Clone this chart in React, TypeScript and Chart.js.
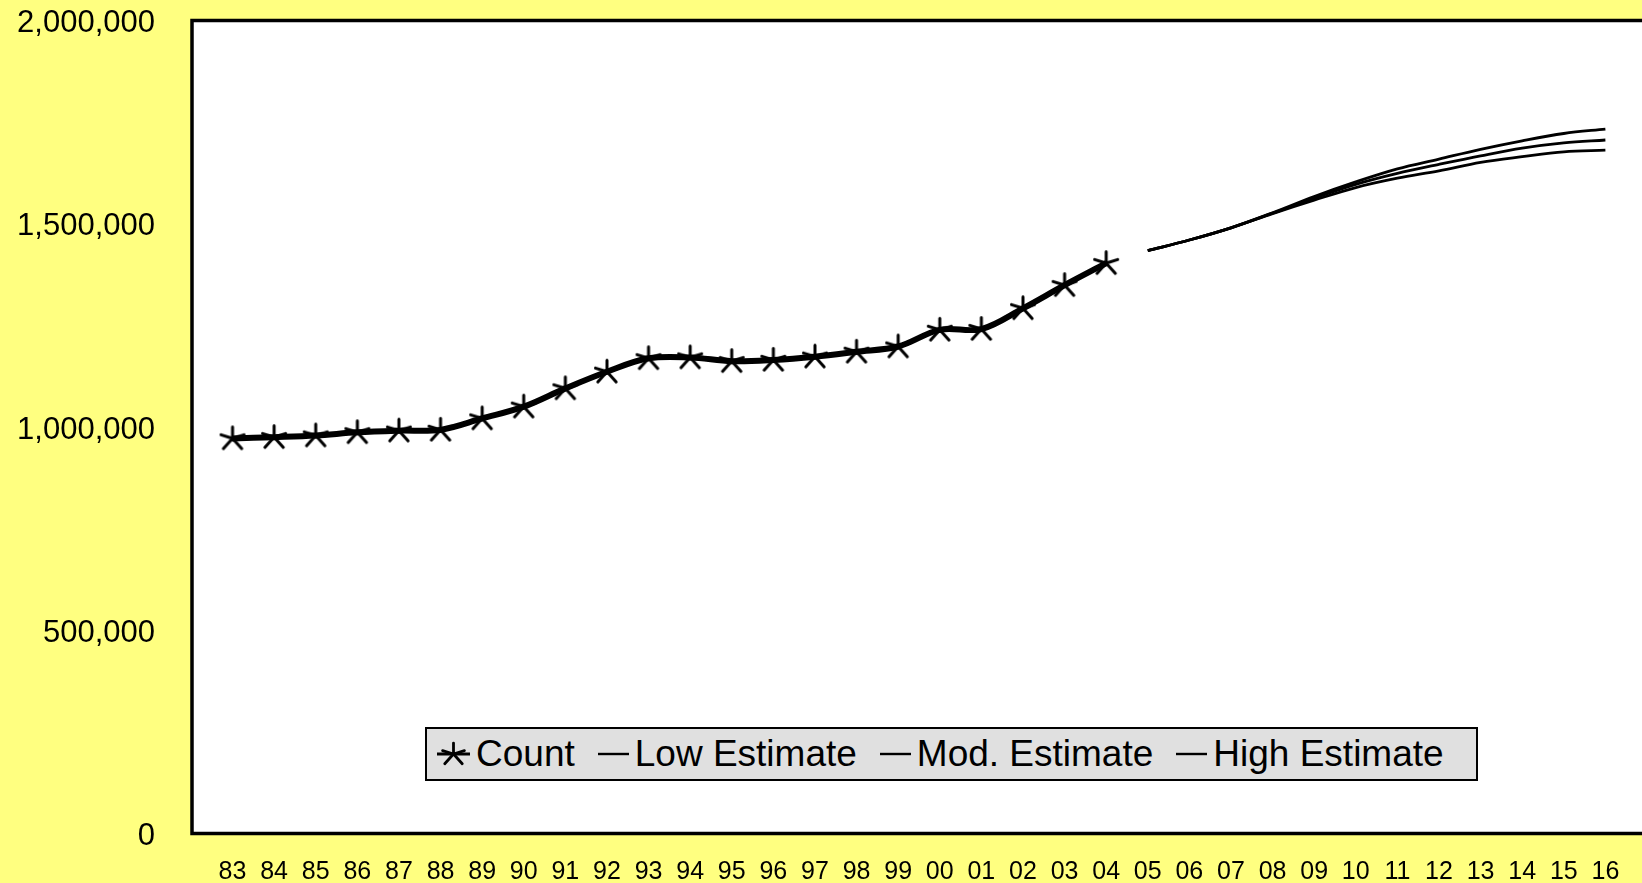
import React, { useEffect, useRef } from 'react';
import { Chart, registerables } from 'chart.js';

Chart.register(...registerables);

// ---------- data ----------
const yearLabels = [
  '83', '84', '85', '86', '87', '88', '89', '90', '91', '92', '93', '94',
  '95', '96', '97', '98', '99', '00', '01', '02', '03', '04', '05', '06',
  '07', '08', '09', '10', '11', '12', '13', '14', '15', '16',
];

// Count: 83 .. 04
const countValues = [
  972000, 975000, 979000, 987000, 991000, 993000, 1021000, 1050000, 1095000,
  1136000, 1169000, 1171000, 1162000, 1165000, 1173000, 1185000, 1198000,
  1239000, 1241000, 1292000, 1349000, 1403000,
];

// Estimates: 05 .. 16
const lowEstimate = [
  1434000, 1460000, 1490000, 1525000, 1558000, 1589000, 1612000, 1630000,
  1651000, 1665000, 1677000, 1681000,
];
const modEstimate = [
  1434000, 1460000, 1490000, 1526000, 1563000, 1597000, 1624000, 1646000,
  1667000, 1686000, 1699000, 1706000,
];
const highEstimate = [
  1434000, 1460000, 1490000, 1527000, 1567000, 1603000, 1635000, 1659000,
  1683000, 1704000, 1722000, 1733000,
];

const yTickValues = [0, 500000, 1000000, 1500000, 2000000];

const countStartIndex = 0;
const estimateStartIndex = 22;

const legendItems = [
  { label: 'Count', star: true },
  { label: 'Low Estimate', star: false },
  { label: 'Mod. Estimate', star: false },
  { label: 'High Estimate', star: false },
];

// ---------- styling ----------
const FONT = "'Liberation Sans', Arial, Helvetica, sans-serif";
const PAGE_BG = '#FFFF80';

const starArms: Array<[number, number]> = [
  [0, -11.5],
  [11.5, -3.6],
  [9.2, 10.2],
  [-9.2, 10.2],
  [-11.5, -3.6],
];

function makeStarCanvas(): HTMLCanvasElement {
  const c = document.createElement('canvas');
  c.width = 30;
  c.height = 30;
  const g = c.getContext('2d');
  if (g) {
    g.strokeStyle = '#000';
    g.lineWidth = 3;
    g.lineCap = 'round';
    g.beginPath();
    for (const [dx, dy] of starArms) {
      g.moveTo(15, 15);
      g.lineTo(15 + dx, 15 + dy);
    }
    g.stroke();
  }
  return c;
}

const toPoints = (values: number[], start: number) =>
  values.map((v, i) => ({ x: start + i, y: v }));

const framePlugin = {
  id: 'plotFrame',
  beforeDraw(chart: any) {
    const { ctx, chartArea: a } = chart;
    ctx.save();
    ctx.fillStyle = '#FFFFFF';
    ctx.fillRect(a.left, a.top, a.right - a.left + 10, a.bottom - a.top);
    ctx.restore();
  },
  beforeDatasetsDraw(chart: any) {
    const { ctx, chartArea: a } = chart;
    ctx.save();
    ctx.strokeStyle = '#000';
    ctx.lineWidth = 3.5;
    ctx.lineJoin = 'miter';
    ctx.beginPath();
    ctx.moveTo(a.right + 10, a.top);
    ctx.lineTo(a.left, a.top);
    ctx.lineTo(a.left, a.bottom);
    ctx.lineTo(a.right + 10, a.bottom);
    ctx.stroke();
    ctx.restore();
  },
};

function LegendStar() {
  return (
    <svg width="33" height="26" viewBox="0 0 33 26" style={{ display: 'block' }}>
      <line x1="0" y1="13" x2="33" y2="13" stroke="#000" strokeWidth="3" />
      {starArms.map(([dx, dy], i) => (
        <line
          key={i}
          x1="16.5"
          y1="13"
          x2={16.5 + dx * 0.95}
          y2={13 + dy * 0.95}
          stroke="#000"
          strokeWidth="2.8"
          strokeLinecap="round"
        />
      ))}
    </svg>
  );
}

function LegendDash() {
  return (
    <svg width="31" height="26" viewBox="0 0 31 26" style={{ display: 'block' }}>
      <line x1="0" y1="13" x2="31" y2="13" stroke="#000" strokeWidth="2.4" />
    </svg>
  );
}

export default function App() {
  const canvasRef = useRef<HTMLCanvasElement | null>(null);

  useEffect(() => {
    const canvas = canvasRef.current;
    if (!canvas) return;
    const star = makeStarCanvas();

    const chart = new Chart(canvas, {
      type: 'line',
      data: {
        datasets: [
          {
            label: 'Count',
            data: toPoints(countValues, countStartIndex),
            borderColor: '#000',
            borderWidth: 6,
            tension: 0.35,
            pointStyle: star as any,
            pointRadius: 12,
            pointBorderWidth: 0,
            pointBackgroundColor: '#000',
          },
          {
            label: 'Low Estimate',
            data: toPoints(lowEstimate, estimateStartIndex),
            borderColor: '#000',
            borderWidth: 2.8,
            tension: 0.35,
            pointRadius: 0,
          },
          {
            label: 'Mod. Estimate',
            data: toPoints(modEstimate, estimateStartIndex),
            borderColor: '#000',
            borderWidth: 2.8,
            tension: 0.35,
            pointRadius: 0,
          },
          {
            label: 'High Estimate',
            data: toPoints(highEstimate, estimateStartIndex),
            borderColor: '#000',
            borderWidth: 2.8,
            tension: 0.35,
            pointRadius: 0,
          },
        ],
      },
      options: {
        animation: false,
        responsive: true,
        maintainAspectRatio: false,
        layout: {
          autoPadding: false,
          padding: { top: 20.5, left: 0, right: 0, bottom: 0 },
        },
        plugins: {
          legend: { display: false },
          tooltip: { enabled: false },
        },
        scales: {
          x: {
            type: 'linear',
            min: -0.974,
            max: 33.88,
            grid: { display: false, drawTicks: false },
            border: { display: false },
            afterBuildTicks: (scale: any) => {
              scale.ticks = yearLabels.map((_, i) => ({ value: i }));
            },
            afterFit: (scale: any) => {
              scale.height = 49.5;
              scale.paddingLeft = 0;
              scale.paddingRight = 0;
            },
            ticks: {
              autoSkip: false,
              maxRotation: 0,
              minRotation: 0,
              padding: 24,
              color: '#000',
              font: { family: FONT, size: 25 },
              callback: (v: any) => yearLabels[Math.round(Number(v))] ?? '',
            },
          },
          y: {
            type: 'linear',
            min: 0,
            max: 2000000,
            grid: { display: false, drawTicks: false },
            border: { display: false },
            afterBuildTicks: (scale: any) => {
              scale.ticks = yTickValues.map((v) => ({ value: v }));
            },
            afterFit: (scale: any) => {
              scale.width = 192;
              scale.paddingTop = 0;
              scale.paddingBottom = 0;
            },
            ticks: {
              padding: 37,
              labelOffset: 3,
              color: '#000',
              font: { family: FONT, size: 31 },
              callback: (v: any) => Number(v).toLocaleString('en-US'),
            },
          },
        },
      },
      plugins: [framePlugin],
    });

    return () => chart.destroy();
  }, []);

  return (
    <div
      style={{
        position: 'fixed',
        left: 0,
        top: 0,
        width: 1642,
        height: 883,
        background: PAGE_BG,
        overflow: 'hidden',
      }}
    >
      <canvas ref={canvasRef} />
      <div
        style={{
          position: 'absolute',
          left: 425,
          top: 727,
          width: 1053,
          height: 54,
          boxSizing: 'border-box',
          border: '2px solid #000',
          background: '#E0E0E0',
          display: 'flex',
          alignItems: 'center',
          paddingLeft: 10,
          fontFamily: FONT,
          fontSize: 37,
          color: '#000',
          whiteSpace: 'nowrap',
        }}
      >
        {legendItems.map((item, i) => (
          <div
            key={item.label}
            style={{
              display: 'flex',
              alignItems: 'center',
              marginLeft: i === 0 ? 0 : 23,
            }}
          >
            {item.star ? <LegendStar /> : <LegendDash />}
            <span style={{ marginLeft: 6, lineHeight: '44px' }}>{item.label}</span>
          </div>
        ))}
      </div>
    </div>
  );
}
